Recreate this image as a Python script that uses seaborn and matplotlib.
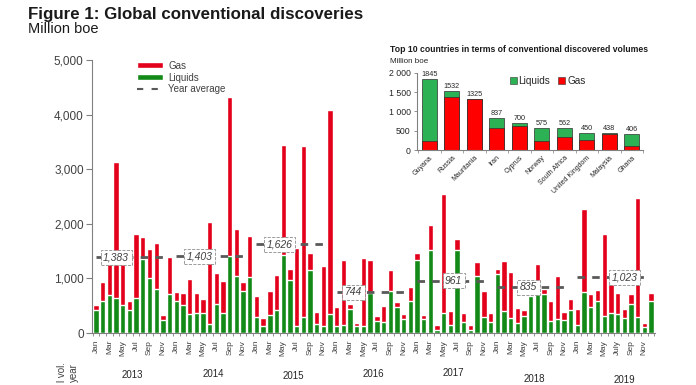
import matplotlib
matplotlib.use('Agg')
import numpy as np
import pandas as pd
import matplotlib.pyplot as plt
import matplotlib.transforms as mtransforms
from matplotlib.patches import Patch
from matplotlib.lines import Line2D
import seaborn as sns

# Monthly discoveries 2013-2019, million boe
years = [2013, 2014, 2015, 2016, 2017, 2018, 2019]
year_avg = [1383, 1403, 1626, 744, 961, 835, 1023]

total = [510, 925, 1450, 3140, 1400, 580, 1820, 1755, 1530, 1655, 330, 1390,
         760, 730, 990, 730, 615, 2025, 1090, 950, 4320, 1910, 925, 1775,
         680, 280, 770, 1060, 3450, 1180, 1550, 3420, 1465, 380, 1225, 4090,
         480, 1335, 540, 185, 1370, 1335, 310, 490, 1155, 560, 350, 850,
         1460, 330, 1980, 140, 2545, 410, 1720, 360, 145, 1305, 765, 370,
         1170, 1325, 1115, 450, 420, 690, 1265, 810, 595, 1050, 390, 625,
         440, 2275, 715, 795, 1810, 905, 735, 440, 715, 2470, 180, 740]
liquids = [430, 580, 700, 640, 505, 430, 640, 1360, 1000, 815, 240, 715,
           595, 510, 345, 375, 375, 165, 535, 360, 1410, 1035, 765, 1030,
           285, 135, 325, 420, 1425, 975, 135, 300, 1145, 165, 135, 350,
           125, 150, 440, 130, 130, 735, 220, 210, 770, 475, 260, 585,
           1330, 260, 1520, 55, 360, 150, 1520, 195, 55, 1040, 300, 205,
           1075, 410, 280, 175, 315, 680, 815, 710, 225, 265, 235, 430,
           145, 760, 470, 585, 320, 365, 345, 280, 530, 285, 105, 580]

tick_months = ['Jan', 'Mar', 'May', 'Jul', 'Sep', 'Nov']
tick_months_2019 = ['Jan', 'Mar', 'May', 'July', 'Sep', 'Nov']

# Inset: top 10 countries
countries = ['Guyana', 'Russia', 'Mauritania', 'Iran', 'Cyprus', 'Norway',
             'South Africa', 'United Kingdom', 'Malaysia', 'Ghana']
country_total = [1845, 1532, 1325, 837, 700, 575, 562, 450, 438, 406]
country_gas = [240, 1380, 1325, 580, 620, 240, 340, 265, 410, 95]

RED = '#E3001B'
GREEN = '#138A17'
IN_RED = '#FF0000'
IN_GREEN = '#2DB155'
TXT = '#404040'

sns.set_style('ticks')
plt.rcParams['font.family'] = ['Liberation Sans', 'DejaVu Sans']

fig = plt.figure(figsize=(6.96, 3.85), dpi=100)
ax = fig.add_axes([92 / 696, 52 / 385, 563 / 696, 273 / 385])

df = pd.DataFrame({'idx': np.arange(len(total)), 'total': total, 'liquids': liquids})
sns.barplot(data=df, x='idx', y='total', color=RED, saturation=1, width=0.8,
            errorbar=None, ax=ax)
sns.barplot(data=df, x='idx', y='liquids', color=GREEN, saturation=1, width=0.8,
            errorbar=None, ax=ax)

ax.set_xlim(-0.6, len(total) - 0.4)
ax.set_ylim(0, 5000)
ax.set_xlabel('')
ax.set_ylabel('')
ax.set_yticks(range(0, 5001, 1000))
ax.set_yticklabels([f'{v:,}' for v in range(0, 5001, 1000)], fontsize=8.5, color=TXT)
ax.tick_params(axis='y', length=4, width=0.8, color='#808080', pad=2)

ticks, labels = [], []
for k, y in enumerate(years):
    names = tick_months_2019 if y == 2019 else tick_months
    for j, m in enumerate(names):
        ticks.append(12 * k + 2 * j)
        labels.append(m)
ax.set_xticks(ticks)
ax.set_xticklabels(labels, rotation=90, fontsize=6, color=TXT)
ax.set_xticks(np.arange(-0.5, len(total), 1), minor=True)
ax.tick_params(axis='x', which='major', length=0, pad=5)
ax.tick_params(axis='x', which='minor', length=2.5, width=0.6, color='#808080')
sns.despine(ax=ax)
ax.spines['left'].set_color('#808080')
ax.spines['bottom'].set_color('#808080')

# year averages
label_off = [3, 3.5, 3.5, 2.5, 5.5, 4.7, 7]
for k, avg in enumerate(year_avg):
    ax.plot([12 * k, 12 * k + 10], [avg, avg], color='#595959', lw=2,
            dashes=(2.7, 2.6), zorder=3)
    ax.text(12 * k + label_off[k], avg, f'{avg:,}', ha='center', va='center',
            fontsize=7.5, style='italic', color=TXT, zorder=4,
            bbox=dict(boxstyle='square,pad=0.25', fc='white', ec='#8c8c8c',
                      lw=0.6, ls='--'))

# year labels under the month ticks
trans = mtransforms.blended_transform_factory(ax.transData, fig.transFigure)
year_y = [375, 374, 376, 374, 373, 379, 380]
for k, y in enumerate(years):
    ax.text(12 * k + 5.5 + (1.5 if y == 2019 else 0), 1 - year_y[k] / 385, str(y),
            transform=trans, ha='center', va='center', fontsize=7, color='#262626')

handles = [Patch(fc=RED), Patch(fc=GREEN),
           Line2D([], [], color='#595959', lw=1.5, dashes=(3, 4))]
ax.legend(handles, ['Gas', 'Liquids', 'Year average'], loc='upper left',
          bbox_to_anchor=(0.065, 1.03), frameon=False, fontsize=7,
          handlelength=2.6, handleheight=0.45, labelspacing=0.2,
          handletextpad=0.6, labelcolor=TXT)

fig.text(28 / 696, 1 - 19 / 385, 'Figure 1: Global conventional discoveries',
         fontsize=12.2, fontweight='bold', color='#1a1a1a', va='baseline')
fig.text(28 / 696, 1 - 33 / 385, 'Million boe', fontsize=10.5,
         color='#1a1a1a', va='baseline')

# side label, only the part visible above the bottom edge
fig.text(62 / 696, 1 - 362 / 385, 'l vol.', rotation=90, va='top',
         ha='center', fontsize=7, color=TXT)
fig.text(74 / 696, 1 - 363 / 385, 'year', rotation=90, va='top',
         ha='center', fontsize=7, color=TXT)

# inset
ins = fig.add_axes([417 / 696, 235 / 385, 226 / 696, 77.3 / 385])
cdf = pd.DataFrame({'country': countries, 'total': country_total, 'gas': country_gas})
sns.barplot(data=cdf, x='country', y='total', color=IN_GREEN, saturation=1,
            width=0.66, edgecolor='#303030', linewidth=0.5, errorbar=None, ax=ins)
sns.barplot(data=cdf, x='country', y='gas', color=IN_RED, saturation=1,
            width=0.66, edgecolor='#303030', linewidth=0.5, errorbar=None, ax=ins)
ins.set_xlim(-0.55, len(countries) - 0.58)
ins.set_ylim(0, 2000)
ins.set_xlabel('')
ins.set_ylabel('')
ins.set_yticks(range(0, 2001, 500))
ins.set_yticklabels(['0', '500', '1 000', '1 500', '2 000'], fontsize=6.3, color='#262626')
ins.set_xticks(range(len(countries)))
ins.set_xticklabels(countries, rotation=45, ha='right', rotation_mode='anchor',
                    fontsize=5, color='#262626')
ins.set_xticks(np.arange(-0.5, len(countries), 1), minor=True)
ins.tick_params(axis='x', which='major', length=0, pad=3)
ins.tick_params(axis='x', which='minor', length=2, width=0.5, color='#808080')
ins.tick_params(axis='y', length=2.5, width=0.6, color='#808080', pad=2)
sns.despine(ax=ins)
ins.spines['left'].set_color('#808080')
ins.spines['bottom'].set_color('#808080')
ins.patch.set_alpha(0)
for i, v in enumerate(country_total):
    ins.text(i, v + 25, str(v), ha='center', va='bottom', fontsize=5.2, color='#262626')

ins_handles = [Patch(fc=IN_GREEN, ec='#303030', lw=0.4), Patch(fc=IN_RED, ec='#303030', lw=0.4)]
ins.legend(ins_handles, ['Liquids', 'Gas'], loc='upper left', ncol=2,
           bbox_to_anchor=(0.37, 1.08), frameon=False, fontsize=7.2,
           handlelength=0.7, handleheight=0.7, handletextpad=0.2,
           columnspacing=0.8, labelcolor='#262626')

fig.text(390 / 696, 1 - 52 / 385,
         'Top 10 countries in terms of conventional discovered volumes',
         fontsize=6.2, fontweight='bold', color='#1a1a1a', va='baseline')
fig.text(390 / 696, 1 - 63 / 385, 'Million boe', fontsize=5.8,
         color='#262626', va='baseline')

fig.savefig('out.png', dpi=100)
